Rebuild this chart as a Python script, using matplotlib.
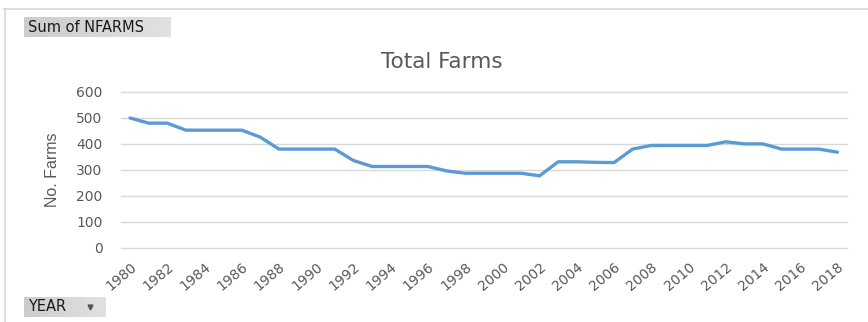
import numpy as np
import matplotlib
matplotlib.use("Agg")
import matplotlib.pyplot as plt
from matplotlib.lines import Line2D

# data
years = list(range(1980, 2019))
nfarms = [500, 480, 480, 453, 453, 453, 453, 426, 380, 380,
          380, 380, 336, 313, 313, 313, 313, 296, 287, 287,
          287, 287, 277, 331, 331, 329, 328, 380, 394, 394,
          394, 394, 408, 400, 400, 380, 380, 380, 368]
y_ticks = [0, 100, 200, 300, 400, 500, 600]
x_labels = [str(y) for y in years[::2]]

title = "Total Farms"
y_title = "No. Farms"
field_button = "Sum of NFARMS"
axis_button = "YEAR"

line_color = "#5b9bd5"
grid_color = "#d9d9d9"
text_color = "#595959"

plt.rcParams["font.family"] = ["DejaVu Sans"]

W, H = 868, 322
fig = plt.figure(figsize=(W / 100, H / 100), dpi=100)
fig.patch.set_facecolor("white")


def fx(px):
    return px / W


def fy(py):
    return 1 - py / H


# main plot area
ax = fig.add_axes([fx(120.7), fy(247.7), fx(846.7) - fx(120.7), fy(92) - fy(247.7)])
ax.plot(years, nfarms, color=line_color, lw=2.4, solid_capstyle="round",
        solid_joinstyle="round", zorder=3)
ax.set_xlim(years[0] - 0.5, years[-1] + 0.5)
ax.set_ylim(0, 600)
ax.set_yticks(y_ticks)
ax.set_xticks(years[::2])
ax.set_xticklabels(x_labels, rotation=40, ha="right", rotation_mode="anchor")
ax.grid(axis="y", color=grid_color, lw=1)
for gl in ax.get_ygridlines():
    gl.set_clip_on(False)
ax.set_axisbelow(True)
for s in ax.spines.values():
    s.set_visible(False)
ax.tick_params(axis="y", length=0, pad=13, labelsize=10, labelcolor=text_color)
ax.tick_params(axis="x", length=0, pad=9, labelsize=10, labelcolor=text_color)
ax.set_ylabel(y_title, color=text_color, fontsize=11.5, labelpad=12,
              family=["Liberation Sans Narrow", "Liberation Sans"])

fig.text(fx(442), fy(62), title, ha="center", va="center", fontsize=15.5,
         color=text_color)

# outer chart border (top and left edges visible in the crop)
fig.add_artist(Line2D([fx(4), 1], [fy(8.5), fy(8.5)], color="#d9d9d9", lw=1.2))
fig.add_artist(Line2D([fx(4.5), fx(4.5)], [fy(8.5), 0], color="#d9d9d9", lw=1.2))


# pivot-chart field buttons with a soft gradient
def button(x0, y0, x1, y1, label, arrow=False):
    bax = fig.add_axes([fx(x0), fy(y1), fx(x1) - fx(x0), fy(y0) - fy(y1)])
    grad = np.linspace(0.80, 0.88, 64).reshape(1, -1)
    bax.imshow(grad, aspect="auto", cmap="gray", vmin=0, vmax=1,
               extent=[0, 1, 0, 1])
    bax.set_xlim(0, 1)
    bax.set_ylim(0, 1)
    bax.axis("off")
    bax.text(4 / (x1 - x0), 0.5, label, ha="left", va="center",
             fontsize=10.5, color="#1a1a1a")
    if arrow:
        bax.plot([(90 - x0) / (x1 - x0)], [0.5], marker="v", ms=3.5,
                 color="#555555")


button(24, 17.3, 171, 36.7, field_button)
button(24, 296.7, 106, 316.7, axis_button, arrow=True)

fig.savefig("out.png", dpi=100)
plt.close(fig)
